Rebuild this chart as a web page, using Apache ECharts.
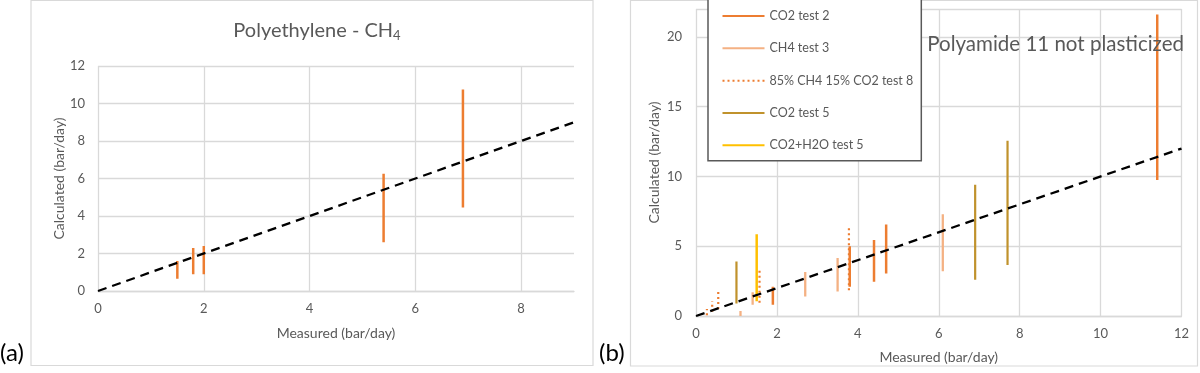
<!DOCTYPE html>
<html>
<head>
<meta charset="utf-8">
<script src="https://cdn.jsdelivr.net/npm/echarts@6/dist/echarts.min.js"></script>
<style>
html,body{margin:0;padding:0;background:#fff;}
#chart{width:1200px;height:373px;}
</style>
</head>
<body>
<div id="chart"></div>
<script>
// ---- Data ----
// (a) Polyethylene - CH4 : measured vs calculated ranges
const peX = [1.5, 1.8, 2.0, 5.4, 6.9];
const peLow = [0.65, 0.9, 0.9, 2.6, 4.45];
const peHigh = [1.6, 2.3, 2.4, 6.25, 10.75];

// (b) Polyamide 11 not plasticized
const co2t2X = [1.9, 3.8, 4.4, 4.7, 11.4];
const co2t2Low = [0.8, 2.1, 2.45, 3.05, 9.75];
const co2t2High = [2.1, 5.0, 5.45, 6.55, 21.6];

const ch4t3X = [1.1, 1.4, 2.7, 3.5, 6.1];
const ch4t3Low = [0, 0.8, 1.4, 1.75, 3.2];
const ch4t3High = [0.35, 1.7, 3.15, 4.15, 7.3];

const mixX = [0.27, 0.4, 0.55, 1.57, 3.78];
const mixLow = [0.05, 0.3, 0.5, 0.95, 1.85];
const mixHigh = [0.5, 1.05, 1.85, 3.4, 6.35];

const co2t5X = [1.0, 6.9, 7.7];
const co2t5Low = [0.9, 2.6, 3.65];
const co2t5High = [3.9, 9.4, 12.55];

const h2oX = [1.5];
const h2oLow = [1.05];
const h2oHigh = [5.85];

const parityLeft = [0, 9];
const parityRight = [0, 12];

const seriesNames = ['CO2 test 2', 'CH4 test 3', '85% CH4 15% CO2 test 8', 'CO2 test 5', 'CO2+H2O test 5'];
const xTicksLeft = { min: 0, max: 9, interval: 2 };
const yTicksLeft = { min: 0, max: 12, interval: 2 };
const xTicksRight = { min: 0, max: 12, interval: 2 };
const yTicksRight = { min: 0, max: 22, interval: 5 };

// ---- Helpers ----
function segs(xs, lo, hi) {
  const d = [];
  xs.forEach((x, i) => {
    d.push([x, lo[i]], [x, hi[i]], ['-', '-']);
  });
  return d;
}
function parity(p) { return p.map(v => [v, v]); }

const FONT = 'Lato';
const TXT = '#595959';
const GRID = '#D9D9D9';

function xAxis(idx, t, nameGap) {
  return {
    type: 'value', gridIndex: idx, min: t.min, max: t.max, interval: t.interval,
    name: 'Measured (bar/day)', nameLocation: 'middle', nameGap: nameGap,
    nameTextStyle: { color: TXT, fontSize: 14, fontFamily: FONT },
    axisLine: { show: true, lineStyle: { color: GRID, width: 1.3 } },
    axisTick: { show: false },
    axisLabel: { color: TXT, fontSize: 13, fontFamily: FONT, margin: 11, showMaxLabel: t.max % t.interval === 0 },
    splitLine: { show: true, showMaxLine: t.max % t.interval === 0, lineStyle: { color: GRID, width: 1.3 } }
  };
}
function yAxis(idx, t, nameGap, margin) {
  return {
    type: 'value', gridIndex: idx, min: t.min, max: t.max, interval: t.interval,
    name: 'Calculated (bar/day)', nameLocation: 'middle', nameGap: nameGap,
    nameTextStyle: { color: TXT, fontSize: 14, fontFamily: FONT },
    axisLine: { show: false },
    axisTick: { show: false },
    axisLabel: { color: TXT, fontSize: 13, fontFamily: FONT, margin: margin, showMaxLabel: t.max % t.interval === 0 },
    splitLine: { show: true, showMaxLine: true, lineStyle: { color: GRID, width: 1.3 } }
  };
}
function rangeSeries(name, xs, lo, hi, color, width, type, xi) {
  return {
    name: name, type: 'line', xAxisIndex: xi, yAxisIndex: xi,
    data: segs(xs, lo, hi), connectNulls: false,
    showSymbol: false, symbol: 'none',
    lineStyle: { color: color, width: width, type: type, cap: 'butt' },
    itemStyle: { color: color },
    z: 2, animation: false
  };
}

const chart = echarts.init(document.getElementById('chart'), null, { renderer: 'canvas' });
const option = {
  animation: false,
  backgroundColor: '#ffffff',
  textStyle: { fontFamily: FONT },
  title: [
    {
      text: 'Polyethylene - CH{sub|4}', left: 312, top: 14, textAlign: 'center',
      textStyle: {
        fontSize: 20, color: TXT, fontFamily: FONT, fontWeight: 'normal',
        rich: { sub: { fontSize: 13, color: TXT, fontFamily: FONT, padding: [10, 0, 0, 0] } }
      }
    },
    {
      text: 'Polyamide 11 not plasticized', right: 11, top: 29,
      textStyle: { fontSize: 20.5, color: TXT, fontFamily: FONT, fontWeight: 'normal' }
    }
  ],
  grid: [
    { left: 98, top: 66, width: 476, height: 225 },
    { left: 696, top: 9, width: 485.5, height: 307 }
  ],
  xAxis: [xAxis(0, xTicksLeft, 35), xAxis(1, xTicksRight, 34)],
  yAxis: [yAxis(0, yTicksLeft, 28, 13), yAxis(1, yTicksRight, 35, 14)],
  legend: {
    data: seriesNames,
    orient: 'vertical', left: 708, top: -12,
    padding: [21.5, 8, 9, 13.5],
    itemWidth: 42, itemHeight: 14, itemGap: 19.33,
    backgroundColor: '#ffffff', borderColor: '#595959', borderWidth: 1.5,
    textStyle: { color: TXT, fontSize: 12.5, fontFamily: FONT },
    itemStyle: { opacity: 0 },
    selectedMode: false
  },
  series: [
    rangeSeries('PE CH4', peX, peLow, peHigh, '#ED7D31', 2.5, 'solid', 0),
    {
      type: 'line', xAxisIndex: 0, yAxisIndex: 0, data: parity(parityLeft),
      showSymbol: false, symbol: 'none',
      lineStyle: { color: '#000000', width: 2.3, type: [9, 6], cap: 'butt' }, z: 5
    },
    rangeSeries(seriesNames[0], co2t2X, co2t2Low, co2t2High, '#ED7D31', 2.5, 'solid', 1),
    rangeSeries(seriesNames[1], ch4t3X, ch4t3Low, ch4t3High, '#F4B183', 2.3, 'solid', 1),
    rangeSeries(seriesNames[2], mixX, mixLow, mixHigh, '#ED7D31', 2.2, [2, 3], 1),
    rangeSeries(seriesNames[3], co2t5X, co2t5Low, co2t5High, '#C0922C', 2.2, 'solid', 1),
    rangeSeries(seriesNames[4], h2oX, h2oLow, h2oHigh, '#FFC000', 2.5, 'solid', 1),
    {
      type: 'line', xAxisIndex: 1, yAxisIndex: 1, data: parity(parityRight),
      showSymbol: false, symbol: 'none',
      lineStyle: { color: '#000000', width: 2.3, type: [9, 6], cap: 'butt' }, z: 5
    }
  ],
  graphic: [
    { type: 'rect', z: -10, shape: { x: 31, y: 0.5, width: 562, height: 365 }, style: { fill: 'none', stroke: GRID, lineWidth: 1.2 } },
    { type: 'rect', z: -10, shape: { x: 630.5, y: 0.5, width: 567, height: 365.5 }, style: { fill: 'none', stroke: GRID, lineWidth: 1.2 } },
    { type: 'text', left: 0, top: 341, style: { text: '(a)', fontSize: 24, fontFamily: FONT, fill: '#000000' } },
    { type: 'text', left: 599, top: 341, style: { text: '(b)', fontSize: 24, fontFamily: FONT, fill: '#000000' } }
  ]
};
chart.setOption(option);
</script>
</body>
</html>
